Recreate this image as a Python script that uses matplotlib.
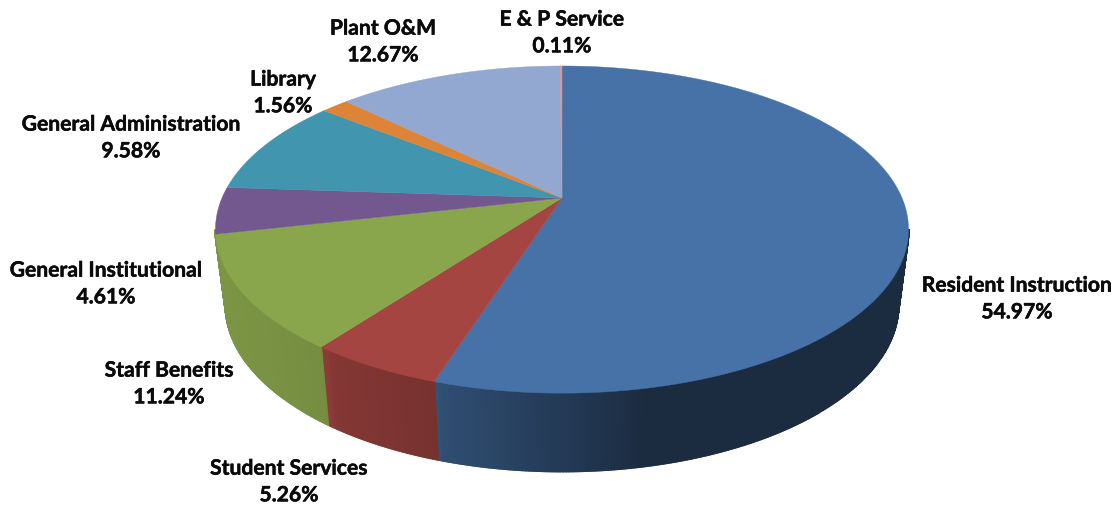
import numpy as np
import matplotlib
matplotlib.use("Agg")
import matplotlib.pyplot as plt
import matplotlib.patheffects as pe
from matplotlib.colors import to_rgb

# Budget shares, clockwise from twelve o'clock
categories = ["Resident Instruction", "Student Services", "Staff Benefits",
              "General Institutional", "General Administration", "Library",
              "Plant O&M", "E & P Service"]
shares = [54.97, 5.26, 11.24, 4.61, 9.58, 1.56, 12.67, 0.11]
colors = ["#4672A8", "#A54542", "#8AA64C", "#73578F", "#4195AE", "#DD8438", "#92A8D0", "#D99694"]
# The left edge of the wall keeps the green of its neighbour
wall_colors = ["#4672A8", "#A54542", "#8AA64C", "#8AA64C", "#4195AE", "#DD8438", "#92A8D0", "#D99694"]
label_centers = [(1017, 299), (289, 482), (169, 384), (106, 284),
                 (131, 138), (283, 93), (383, 42), (562, 33)]

# Perspective disc geometry, in figure pixels
CX = 562
TOP_CY, TOP_A, TOP_B = 198, 340, 157.5
BOT_CY, BOT_A, BOT_B = 273, 330, 160
K = 0.193

# Wall brightness varies across the width of the pie
SHADE_X = [215, 325, 330, 435, 440, 650, 908]
SHADE_F = [0.90, 0.85, 0.80, 0.72, 0.68, 0.38, 0.38]


def rim(theta, cy, a, b):
    sx, sy = np.sin(theta), np.cos(theta)
    w = 1 + K * sy
    return CX + a * sx / w, cy - b * sy / w


fig = plt.figure(figsize=(11.2, 5.08), dpi=100)
ax = fig.add_axes([0, 0, 1, 1])
ax.set_xlim(0, 1120)
ax.set_ylim(508, 0)
ax.axis("off")

edges = np.radians(np.cumsum([0] + shares) * 3.6)
edges[-1] = 2 * np.pi

# Side wall first, in narrow shaded strips, so the top surface overlaps it
for start, end, col in zip(edges[:-1], edges[1:], wall_colors):
    n = max(2, int((end - start) / np.radians(0.4)))
    ts = np.linspace(start, end, n + 1)
    base = np.array(to_rgb(col))
    for t0, t1 in zip(ts[:-1], ts[1:]):
        # Only the strips on the near side of the widest point show
        if np.cos((t0 + t1) / 2) > -K:
            continue
        x0, y0 = rim(t0, TOP_CY, TOP_A, TOP_B)
        x1, y1 = rim(t1, TOP_CY, TOP_A, TOP_B)
        x2, y2 = rim(t1, BOT_CY, BOT_A, BOT_B)
        x3, y3 = rim(t0, BOT_CY, BOT_A, BOT_B)
        f = np.interp((x0 + x1) / 2, SHADE_X, SHADE_F)
        shade = tuple(base * f)
        ax.fill([x0, x1, x2, x3], [y0, y1, y2, y3], facecolor=shade,
                edgecolor=shade, linewidth=1.6, zorder=2)

# Top surface
for start, end, col in zip(edges[:-1], edges[1:], colors):
    ts = np.linspace(start, end, max(3, int((end - start) / np.radians(0.5))))
    xs, ys = rim(ts, TOP_CY, TOP_A, TOP_B)
    ax.fill(np.r_[CX, xs], np.r_[TOP_CY, ys], facecolor=col, edgecolor=col,
            linewidth=0.3, zorder=3)

# Two-line labels: name over percentage
for name, share, (lx, ly) in zip(categories, shares, label_centers):
    ax.text(lx, ly, f"{name}\n{share:.2f}%", ha="center", va="center",
            family="Lato", fontweight="bold", fontsize=15.2, color="#0a0a0a",
            linespacing=1.42, zorder=4,
            path_effects=[pe.withStroke(linewidth=0.35, foreground="#0a0a0a")])

fig.savefig("out.png", dpi=100, facecolor="white")
